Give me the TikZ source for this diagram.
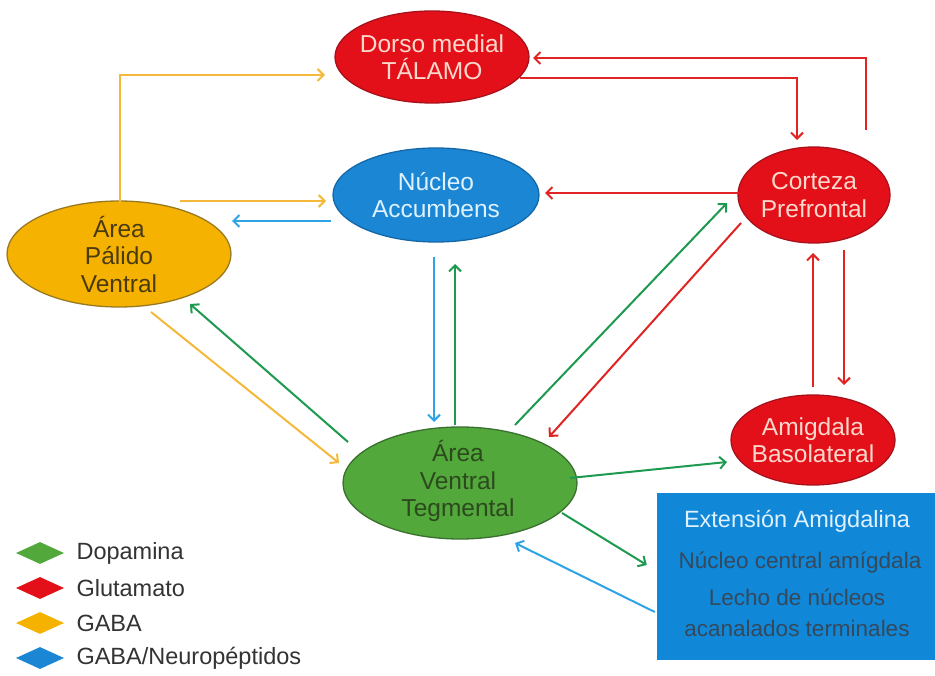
\documentclass[tikz,border=0pt]{standalone}
\usepackage{fontspec}
\setmainfont{Liberation Sans}
\usetikzlibrary{shapes.geometric,arrows.meta,calc}
\definecolor{redF}{HTML}{E3101A}
\definecolor{redD}{HTML}{A8101A}
\definecolor{bluF}{HTML}{1A86D4}
\definecolor{bluD}{HTML}{1468A8}
\definecolor{yelF}{HTML}{F5B200}
\definecolor{yelD}{HTML}{9A7A20}
\definecolor{grnF}{HTML}{52A83A}
\definecolor{grnD}{HTML}{3A7030}
\definecolor{boxF}{HTML}{1187D8}
\definecolor{aYel}{HTML}{F4B93A}
\definecolor{aBlu}{HTML}{2EA3E6}
\definecolor{aGrn}{HTML}{1E9A50}
\definecolor{aRed}{HTML}{E02424}
\definecolor{txPink}{HTML}{FBD8CC}
\definecolor{txLBlu}{HTML}{DDF1FF}
\definecolor{txBrn}{HTML}{4A3A10}
\definecolor{txGrn}{HTML}{2C4A1E}
\definecolor{txBox}{HTML}{34495C}
\definecolor{txLeg}{HTML}{333333}
\tikzset{
  region/.style={ellipse, inner sep=0pt, line width=1.3pt},
  lbl/.style={align=center, font=\fontsize{24.5}{27.5}\selectfont},
  conn/.style={line width=2pt, -{Straight Barb[length=6pt,width=12pt,line width=2pt]}},
  yel/.style={conn, draw=aYel},
  blu/.style={conn, draw=aBlu},
  grn/.style={conn, draw=aGrn},
  rd/.style={conn, draw=aRed},
  legdia/.style={diamond, inner sep=0pt, minimum width=48pt, minimum height=22pt},
  legtxt/.style={anchor=west, text=txLeg, font=\fontsize{23.5}{27}\selectfont}
}
\begin{document}
\begin{tikzpicture}[x=1pt,y=-1pt]
\useasboundingbox (0,0) rectangle (935,676);
\fill[white] (0,0) rectangle (935,676);

% regions
\node[region, fill=redF, draw=redD, minimum width=194pt, minimum height=92pt] (tal) at (432,57) {};
\node[region, fill=bluF, draw=bluD, minimum width=206pt, minimum height=94pt] (acc) at (436,195) {};
\node[region, fill=redF, draw=redD, minimum width=152pt, minimum height=96pt] (cor) at (814,195) {};
\node[region, fill=yelF, draw=yelD, minimum width=224pt, minimum height=106pt] (pal) at (119,254) {};
\node[region, fill=grnF, draw=grnD, minimum width=234pt, minimum height=112pt] (vta) at (460,483) {};
\node[region, fill=redF, draw=redD, minimum width=164pt, minimum height=90pt] (amy) at (813,440) {};
\node[rectangle, fill=boxF, inner sep=0pt, minimum width=278pt, minimum height=167pt] (box) at (796,576.5) {};

% labels
\node[lbl, text=txPink] (taltx) at (tal) {Dorso medial\\TÁLAMO};
\node[lbl, text=txLBlu] (acctx) at (acc) {Núcleo\\Accumbens};
\node[lbl, text=txPink] (cortx) at (cor) {Corteza\\Prefrontal};
\node[lbl, text=txBrn] (paltx) at (pal) {Área\\Pálido\\Ventral};
\node[lbl, text=txGrn] (vtatx) at ($(vta)+(-2,-2)$) {Área\\Ventral\\Tegmental};
\node[lbl, text=txPink] (amytx) at (amy) {Amigdala\\Basolateral};
\node[font=\fontsize{23.5}{27}\selectfont, text=txLBlu] (bx1) at (797,521) {Extensión Amigdalina};
\node[font=\fontsize{22.5}{26}\selectfont, text=txBox] (bx2) at (800,563) {Núcleo central amígdala};
\node[font=\fontsize{22.5}{26}\selectfont, text=txBox] (bx3) at (797,597) {Lecho de núcleos};
\node[font=\fontsize{22.5}{26}\selectfont, text=txBox] (bx4) at (797,628) {acanalados terminales};

% GABA (yellow)
\draw[yel] ($(pal.center)+(1,-51)$) |- ($(tal.center)+(-107,18)$);
\draw[yel] ($(pal.center)+(61,-53)$) -- ($(acc.center)+(-110,6)$);
\draw[yel] ($(pal.center)+(32,58)$) -- ($(vta.center)+(-121,-20)$);

% GABA/Neuropeptidos (blue)
\draw[blu] ($(acc.center)+(-105,26)$) -- ($(pal.center)+(113,-33)$);
\draw[blu] ($(acc.center)+(-2,62)$) -- ($(vta.center)+(-26,-61)$);
\draw[blu] ($(box.west)+(-2,35.5)$) -- ($(vta.center)+(55,60)$);

% Dopamina (green)
\draw[grn] ($(vta.center)+(-112,-41)$) -- ($(pal.center)+(71,50)$);
\draw[grn] ($(vta.center)+(-5,-58)$) -- ($(acc.center)+(19,69)$);
\draw[grn] ($(vta.center)+(55,-58)$) -- ($(cor.center)+(-87,8)$);
\draw[grn] ($(vta.center)+(110,-5)$) -- ($(amy.center)+(-86,22)$);
\draw[grn] ($(vta.center)+(102,30)$) -- ($(box.west)+(-10,-11.5)$);

% Glutamato (red)
\draw[rd] ($(tal.center)+(88,21)$) -| ($(cor.center)+(-17,-55)$);
\draw[rd] ($(cor.center)+(52,-65)$) |- ($(tal.center)+(101,1)$);
\draw[rd] ($(cor.center)+(-75,-2)$) -- ($(acc.center)+(109,-2)$);
\draw[rd] ($(cor.center)+(-73,28)$) -- ($(vta.center)+(89,-46)$);
\draw[rd] ($(amy.center)+(0,-53)$) -- ($(cor.center)+(-1,58)$);
\draw[rd] ($(cor.center)+(30,55)$) -- ($(amy.center)+(31,-55)$);

% legend
\node[legdia, fill=grnF] (d1) at (40,553) {};
\node[legdia, fill=redF] (d2) at (40,588) {};
\node[legdia, fill=yelF] (d3) at (40,623) {};
\node[legdia, fill=bluF] (d4) at (40,658) {};
\node[legtxt] (l1) at (73,553) {Dopamina};
\node[legtxt] (l2) at (73,588) {Glutamato};
\node[legtxt] (l3) at (73,623) {GABA};
\node[legtxt] (l4) at (73,658) {GABA/Neuropéptidos};
\end{tikzpicture}
\end{document}
